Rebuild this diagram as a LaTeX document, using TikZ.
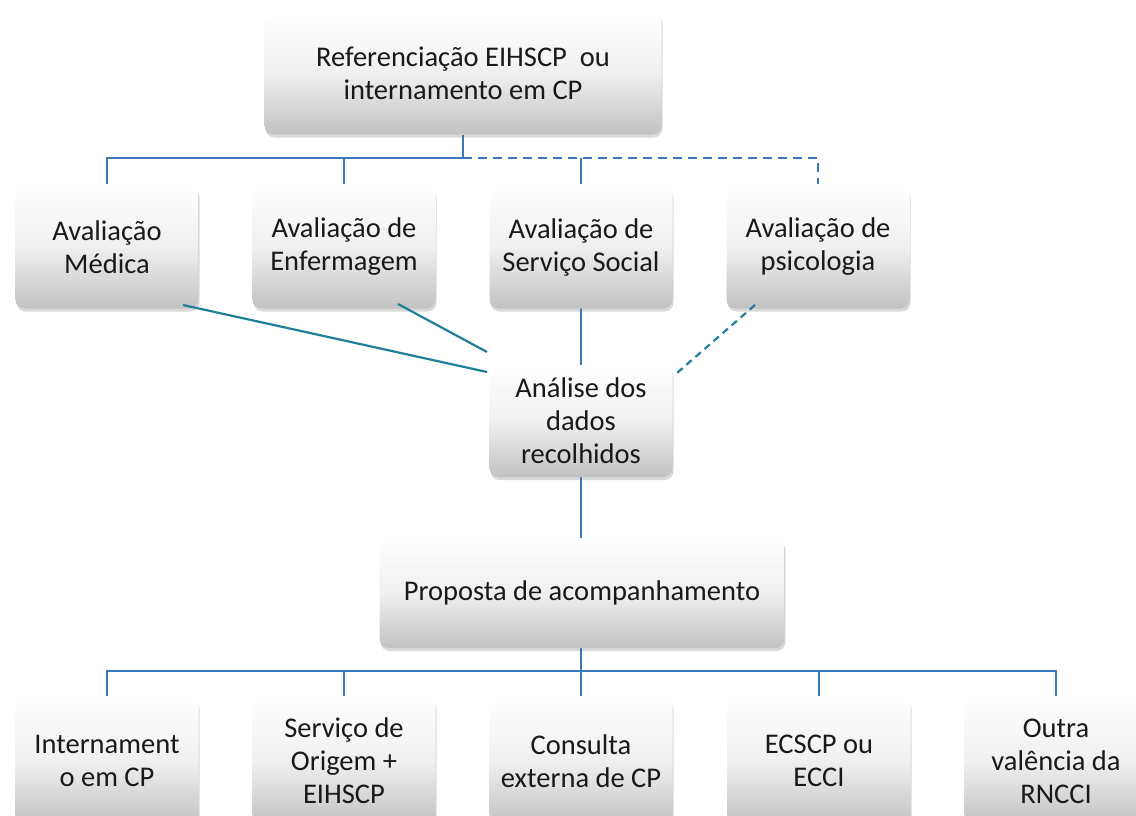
\documentclass[tikz,border=0pt]{standalone}
\usepackage{fontspec}
\setmainfont{Carlito}
\usetikzlibrary{shadows,calc}
\definecolor{treeblue}{HTML}{3A78BE}
\definecolor{tealline}{HTML}{1F7F98}
\begin{document}
\begin{tikzpicture}[x=1pt,y=-1pt,
  box/.style={rounded corners=9pt, top color=white, bottom color=black!24,
    middle color=black!6, shading angle=0,
    drop shadow={shadow xshift=1pt, shadow yshift=-3pt, opacity=.25, fill=black!60},
    align=center, font=\fontsize{28.5}{33}\selectfont, text=black!90, inner sep=0pt},
  smallbox/.style={box, minimum width=183pt, minimum height=123pt},
  tree/.style={draw=treeblue, line width=2.8pt},
  treedash/.style={tree, dash pattern=on 9pt off 6pt},
  diag/.style={draw=tealline, line width=2.2pt},
  diagdash/.style={diag, dash pattern=on 7pt off 5pt}]
\useasboundingbox (0,0) rectangle (1136,816);
\clip (0,0) rectangle (1136,816);
% tree connectors (drawn first)
\coordinate (tj) at (463,158);
\coordinate (bj) at (581,671);
\draw[tree] (463,135) -- (tj);
\draw[tree] (tj) -- (107,158) -- (107,184);
\draw[tree] (344,158) -- (344,184);
\draw[tree] (581,158) -- (581,184);
\draw[treedash] (tj) -- (818,158) -- (818,184);
\draw[tree] (581,308) -- (581,365);
\draw[tree] (581,477) -- (581,538);
\draw[tree] (581,648) -- (bj);
\draw[tree] (bj) -- (107,671) -- (107,696);
\draw[tree] (344,671) -- (344,696);
\draw[tree] (581,671) -- (581,696);
\draw[tree] (bj) -- (1056,671) -- (1056,696);
\draw[tree] (819,671) -- (819,696);
% boxes
\node[box, minimum width=397pt, minimum height=123pt] (top) at (463,73)
  {Referenciação EIHSCP\ \ ou\\internamento em CP};
\node[smallbox] (med) at (107,247) {Avaliação\\Médica};
\node[smallbox] (enf) at (344,247) {Avaliação de\\Enfermagem};
\node[smallbox] (soc) at (581,247) {Avaliação de\\Serviço Social};
\node[smallbox] (psi) at (818,247) {Avaliação de\\psicologia};
\node[box, minimum width=183pt, minimum height=112pt] (ana) at (581,421)
  {Análise dos\\dados\\recolhidos};
\node[box, minimum width=405pt, minimum height=110pt] (pro) at (582,593)
  {Proposta de acompanhamento};
\node[smallbox, minimum height=128pt] (b1) at (107,761) {Internament\\o em CP};
\node[smallbox, minimum height=128pt] (b2) at (344,761) {Serviço de\\Origem +\\EIHSCP};
\node[smallbox, minimum height=128pt] (b3) at (581,761) {Consulta\\externa de CP};
\node[smallbox, minimum height=128pt] (b4) at (819,761) {ECSCP ou\\ECCI};
\node[smallbox, minimum height=128pt] (b5) at (1056,761) {Outra\\valência da\\RNCCI};
% diagonal connectors
\coordinate (m1) at (183,305);
\coordinate (a1) at (487,372);
\coordinate (e1) at (398,304);
\coordinate (a2) at (487,352);
\coordinate (p1) at (755,305);
\coordinate (a3) at (677,373);
\draw[diag] (m1) -- (a1);
\draw[diag] (e1) -- (a2);
\draw[diagdash] (p1) -- (a3);
\end{tikzpicture}
\end{document}
